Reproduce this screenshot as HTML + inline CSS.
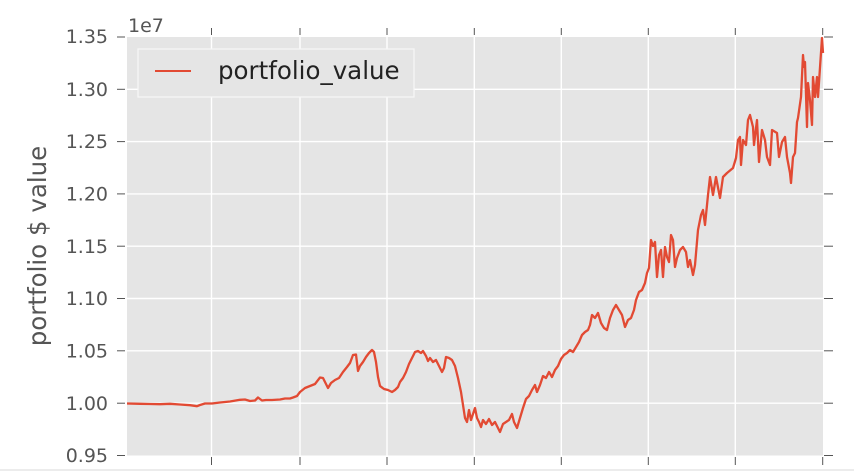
<!DOCTYPE html>
<html><head><meta charset="utf-8"><style>
html,body{margin:0;padding:0;background:#fff;}
svg{display:block;}
text{font-family:"DejaVu Sans","Liberation Sans",sans-serif;}
</style></head><body>
<svg width="854" height="471" viewBox="0 0 854 471" xmlns="http://www.w3.org/2000/svg">
<rect x="0" y="0" width="854" height="471" fill="#fff"/>
<rect x="0" y="469" width="854" height="2" fill="#ececec"/>
<rect x="127" y="37" width="696" height="418.5" fill="#e5e5e5"/>
<g stroke="#ffffff" stroke-width="1.4">
<line x1="211.5" y1="37" x2="211.5" y2="455.5"/>
<line x1="300" y1="37" x2="300" y2="455.5"/>
<line x1="387" y1="37" x2="387" y2="455.5"/>
<line x1="474.3" y1="37" x2="474.3" y2="455.5"/>
<line x1="561.3" y1="37" x2="561.3" y2="455.5"/>
<line x1="648.3" y1="37" x2="648.3" y2="455.5"/>
<line x1="735.3" y1="37" x2="735.3" y2="455.5"/>
<line x1="127" y1="89.3" x2="823" y2="89.3"/>
<line x1="127" y1="141.6" x2="823" y2="141.6"/>
<line x1="127" y1="193.9" x2="823" y2="193.9"/>
<line x1="127" y1="246.2" x2="823" y2="246.2"/>
<line x1="127" y1="298.5" x2="823" y2="298.5"/>
<line x1="127" y1="350.8" x2="823" y2="350.8"/>
<line x1="127" y1="403.2" x2="823" y2="403.2"/>
</g>
<g stroke="#555" stroke-width="1">
<line x1="117" y1="37" x2="125" y2="37"/>
<line x1="117" y1="89.3" x2="125" y2="89.3"/>
<line x1="117" y1="141.6" x2="125" y2="141.6"/>
<line x1="117" y1="193.9" x2="125" y2="193.9"/>
<line x1="117" y1="246.2" x2="125" y2="246.2"/>
<line x1="117" y1="298.5" x2="125" y2="298.5"/>
<line x1="117" y1="350.8" x2="125" y2="350.8"/>
<line x1="117" y1="403.2" x2="125" y2="403.2"/>
<line x1="117" y1="455.5" x2="125" y2="455.5"/>
<line x1="824" y1="37" x2="833" y2="37"/>
<line x1="824" y1="89.3" x2="833" y2="89.3"/>
<line x1="824" y1="141.6" x2="833" y2="141.6"/>
<line x1="824" y1="193.9" x2="833" y2="193.9"/>
<line x1="824" y1="246.2" x2="833" y2="246.2"/>
<line x1="824" y1="298.5" x2="833" y2="298.5"/>
<line x1="824" y1="350.8" x2="833" y2="350.8"/>
<line x1="824" y1="403.2" x2="833" y2="403.2"/>
<line x1="824" y1="455.5" x2="833" y2="455.5"/>
<line x1="211.5" y1="28" x2="211.5" y2="35"/>
<line x1="300" y1="28" x2="300" y2="35"/>
<line x1="387" y1="28" x2="387" y2="35"/>
<line x1="474.3" y1="28" x2="474.3" y2="35"/>
<line x1="561.3" y1="28" x2="561.3" y2="35"/>
<line x1="648.3" y1="28" x2="648.3" y2="35"/>
<line x1="735.3" y1="28" x2="735.3" y2="35"/>
<line x1="822.7" y1="28" x2="822.7" y2="35"/>
<line x1="211.5" y1="457" x2="211.5" y2="465"/>
<line x1="300" y1="457" x2="300" y2="465"/>
<line x1="387" y1="457" x2="387" y2="465"/>
<line x1="474.3" y1="457" x2="474.3" y2="465"/>
<line x1="561.3" y1="457" x2="561.3" y2="465"/>
<line x1="648.3" y1="457" x2="648.3" y2="465"/>
<line x1="735.3" y1="457" x2="735.3" y2="465"/>
<line x1="822.7" y1="457" x2="822.7" y2="465"/>
</g>
<g fill="#555" font-size="19" text-anchor="end">
<text x="108" y="43">1.35</text>
<text x="108" y="96">1.30</text>
<text x="108" y="148">1.25</text>
<text x="108" y="200.5">1.20</text>
<text x="108" y="253">1.15</text>
<text x="108" y="305">1.10</text>
<text x="108" y="357.5">1.05</text>
<text x="108" y="410">1.00</text>
<text x="108" y="462">0.95</text>
</g>
<text x="128" y="32" fill="#555" font-size="19">1e7</text>
<text transform="translate(46,246) rotate(-90)" fill="#555" font-size="24.5" text-anchor="middle">portfolio $ value</text>
<polyline fill="none" stroke="#e24a33" stroke-width="2.3" stroke-linejoin="round" points="
127,403.5 140,403.8 150,404 160,404.2 170,403.8 180,404.5 190,405.2 197,406.2 200,405 205,403.5 212,403.5 220,402.5 230,401.5 240,399.8 245,399.5 250,401 255,400.5 258,397.5 262,400.5 266,400 272,400 280,399.5 285,398.5 290,398.5 293,397.5 297,396 300,392 305,388 310,386 315,384 320,377.5 323,378 326,384 328,388 331,383 335,380 339,378 343,372 347,367 350,363 353,355 356,354.5 358,371 360,366 363,362 366,357 369,353 372,350 374,352 376,362 378,377 380,386 384,389 388,390 392,392 395,390 398,387 400,382 403,378 406,372 409,364 412,358 415,352 418,351 421,353 423,351 426,356 428,361 430,358 433,362 436,360 439,366 442,372 444,368 446,357 449,358 452,360 455,366 458,378 461,392 463,405 465,418 467,422 469,410 471,420 473,414 475,408 477,418 479,422 481,427 483,420 486,424 489,419 492,425 495,422 498,428 500,432 503,424 506,422 509,420 512,414 514,422 517,428 520,418 523,408 526,399 529,396 532,390 535,385 537,392 540,385 543,376 546,378 549,372 552,377 555,370 558,366 561,359 564,355 567,353 570,350 573,352 576,347 579,342 582,335 585,332 588,330 590,325 592,315 595,318 598,313 601,323 604,328 607,330 610,318 613,310 616,305 619,310 622,315 625,327 628,320 631,318 634,310 636,300 639,292 642,290 645,283 647,273 649,268 651,240 653,246 655,242 657,277 659,255 661,250 663,277 665,247 667,257 669,262 671,235 673,240 675,267 677,258 680,250 683,247 686,252 688,267 690,260 693,275 695,265 698,230 701,215 703,210 705,225 708,195 710,177 713,195 716,177 720,198 723,177 727,173 733,168 736,158 738,140 740,137 741,165 743,140 746,145 748,120 750,115 753,127 754,145 757,120 759,162 762,130 765,140 767,157 770,165 772,130 777,133 779,157 782,142 785,137 787,157 790,173 791,183 793,157 795,153 797,122 798,118 801,97 803,55 804,67 805,62 807,127 808,83 810,100 812,125 813,77 815,97 817,77 818,97 822,38 823,53"/>
<rect x="138" y="49" width="276" height="48" fill="#e5e5e5" stroke="#f7f7f7" stroke-width="1.2"/>
<line x1="155" y1="71" x2="191" y2="71" stroke="#e24a33" stroke-width="2"/>
<text x="218" y="79" fill="#222" font-size="24.5">portfolio_value</text>
</svg>
</body></html>
